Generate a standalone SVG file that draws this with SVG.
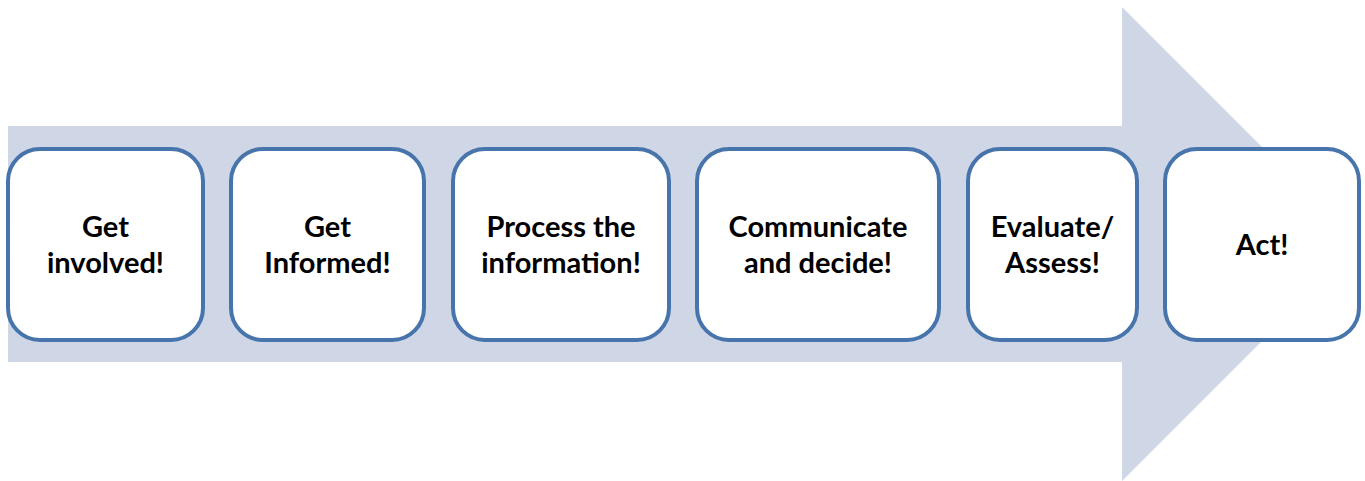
<svg xmlns="http://www.w3.org/2000/svg" width="1365" height="481" viewBox="0 0 1365 481">
<style>
.box{fill:#ffffff;stroke:#4874AC;stroke-width:4}
.t{font-family:Lato,"Liberation Sans",sans-serif;font-weight:bold;font-size:29px;fill:#000;text-anchor:middle}
</style>
<rect width="1365" height="481" fill="#ffffff"/>
<g id="connectors">
<polygon id="big-arrow" points="8,126 1122,126 1122,7 1359,244 1122,481 1122,362 8,362" fill="#CFD7E7"/>
</g>
<g id="n1"><rect class="box" x="8" y="149" width="195" height="191" rx="32"/><text class="t" x="105.5" y="237">Get</text><text class="t" x="105.5" y="273">involved!</text></g>
<g id="n2"><rect class="box" x="231" y="149" width="193" height="191" rx="32"/><text class="t" x="327.5" y="237">Get</text><text class="t" x="327.5" y="273">Informed!</text></g>
<g id="n3"><rect class="box" x="453" y="149" width="216" height="191" rx="32"/><text class="t" x="561" y="237">Process the</text><text class="t" x="561" y="273">information!</text></g>
<g id="n4"><rect class="box" x="697" y="149" width="242" height="191" rx="32"/><text class="t" x="818" y="237">Communicate</text><text class="t" x="818" y="273">and decide!</text></g>
<g id="n5"><rect class="box" x="968" y="149" width="169" height="191" rx="32"/><text class="t" x="1052.5" y="237">Evaluate/</text><text class="t" x="1052.5" y="273">Assess!</text></g>
<g id="n6"><rect class="box" x="1165" y="149" width="194" height="191" rx="32"/><text class="t" x="1262" y="255">Act!</text></g>
</svg>
